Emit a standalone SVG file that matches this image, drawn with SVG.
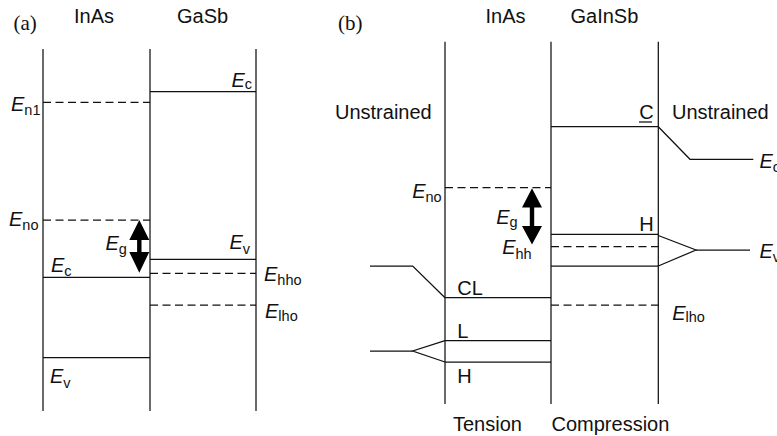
<svg xmlns="http://www.w3.org/2000/svg" width="777" height="436" viewBox="0 0 777 436">
<style>
.ln{stroke:#111;stroke-width:1.25;fill:none}
.ds{stroke:#111;stroke-width:1.25;fill:none;stroke-dasharray:8 4.5}
.t{font-family:"Liberation Sans",Arial,sans-serif;font-size:20px;fill:#111}
.p{font-family:"Liberation Serif","Times New Roman",serif;font-size:21px;fill:#111}
.E{font-style:italic}
.s{font-size:14.5px;font-style:normal}
.ar{fill:#000}
</style>
<rect width="777" height="436" fill="#fff"/>
<g id="panel-a">
  <text class="p" x="13.5" y="29.5">(a)</text>
  <text class="t" x="74" y="23">InAs</text>
  <text class="t" x="177" y="23">GaSb</text>
  <g id="a-layers">
    <line class="ln" x1="43" y1="49" x2="43" y2="411"/>
    <line class="ln" x1="150" y1="49" x2="150" y2="411"/>
    <line class="ln" x1="256" y1="49" x2="256" y2="411"/>
  </g>
  <g id="a-levels">
    <line class="ln" x1="150" y1="91.7" x2="256" y2="91.7"/>
    <line class="ds" x1="43" y1="102.3" x2="150" y2="102.3"/>
    <line class="ds" x1="43" y1="220" x2="150" y2="220"/>
    <line class="ln" x1="150" y1="259.3" x2="256" y2="259.3"/>
    <line class="ds" x1="150" y1="273.3" x2="256" y2="273.3"/>
    <line class="ln" x1="43" y1="277.3" x2="150" y2="277.3"/>
    <line class="ds" x1="150" y1="305" x2="256" y2="305"/>
    <line class="ln" x1="43" y1="357.7" x2="150" y2="357.7"/>
  </g>
  <polygon id="a-eg-arrow" class="ar" points="139.3,220 149.3,240 141.5,240 141.5,252 149.3,252 139.3,272.7 129.3,252 137.1,252 137.1,240 129.3,240"/>
  <g id="a-labels">
    <text class="t E" x="231.5" y="86.5">E<tspan class="s" dy="2.5">c</tspan></text>
    <text class="t E" x="11" y="111">E<tspan class="s" dy="3.5">n1</tspan></text>
    <text class="t E" x="9" y="226">E<tspan class="s" dy="4">no</tspan></text>
    <text class="t E" x="105.5" y="250">E<tspan class="s" dy="4">g</tspan></text>
    <text class="t E" x="229.5" y="249.3">E<tspan class="s" dy="4.5">v</tspan></text>
    <text class="t E" x="51" y="271.7">E<tspan class="s" dy="4.5">c</tspan></text>
    <text class="t E" x="264" y="280.7">E<tspan class="s" dy="4.5">hho</tspan></text>
    <text class="t E" x="265" y="318.3">E<tspan class="s" dy="2.5">lho</tspan></text>
    <text class="t E" x="50" y="383.3">E<tspan class="s" dy="5">v</tspan></text>
  </g>
</g>
<g id="panel-b">
  <text class="p" x="338" y="29.5">(b)</text>
  <text class="t" x="485.5" y="23">InAs</text>
  <text class="t" x="570.5" y="23">GaInSb</text>
  <text class="t" x="335" y="119">Unstrained</text>
  <text class="t" x="672" y="119">Unstrained</text>
  <g id="b-layers">
    <line class="ln" x1="445" y1="41.7" x2="445" y2="404"/>
    <line class="ln" x1="551" y1="41.7" x2="551" y2="404"/>
    <line class="ln" x1="658.3" y1="41.7" x2="658.3" y2="404"/>
  </g>
  <g id="b-levels">
    <line class="ln" x1="551" y1="126.7" x2="658.3" y2="126.7"/>
    <polyline class="ln" points="658.3,126.7 690,159.3 753.3,159.3"/>
    <line class="ds" x1="445" y1="187.7" x2="551" y2="187.7"/>
    <line class="ln" x1="551" y1="234.3" x2="658.3" y2="234.3"/>
    <line class="ds" x1="551" y1="246.7" x2="658.3" y2="246.7"/>
    <line class="ln" x1="551" y1="266" x2="658.3" y2="266"/>
    <polyline class="ln" points="658.3,235.5 696,250 658.3,266"/>
    <line class="ln" x1="696" y1="250" x2="750" y2="250"/>
    <polyline class="ln" points="370,266 412.7,266 445,297.7"/>
    <line class="ln" x1="445" y1="297.7" x2="551" y2="297.7"/>
    <line class="ds" x1="551" y1="305" x2="659" y2="305"/>
    <line class="ln" x1="445" y1="340.7" x2="551" y2="340.7"/>
    <line class="ln" x1="445" y1="362" x2="551" y2="362"/>
    <polyline class="ln" points="445,340.7 412.7,351 445,362"/>
    <line class="ln" x1="370" y1="351" x2="412.7" y2="351"/>
  </g>
  <polygon id="b-eg-arrow" class="ar" points="532,188.3 542,207.5 534.2,207.5 534.2,226 542,226 532,244.5 522,226 529.8,226 529.8,207.5 522,207.5"/>
  <g id="b-labels">
    <text class="t" x="639.3" y="119">C</text>
    <line class="ln" x1="639" y1="122" x2="652" y2="122"/>
    <text class="t" x="639.3" y="231">H</text>
    <text class="t" x="457.3" y="295.3">CL</text>
    <text class="t" x="457.3" y="337.5">L</text>
    <text class="t" x="457.3" y="383">H</text>
    <text class="t" x="453" y="431">Tension</text>
    <text class="t" x="551.5" y="431">Compression</text>
    <text class="t E" x="412.2" y="197.7">E<tspan class="s" dy="4.5">no</tspan></text>
    <text class="t E" x="496.2" y="224">E<tspan class="s" dy="2.5">g</tspan></text>
    <text class="t E" x="502.2" y="254">E<tspan class="s" dy="4.5">hh</tspan></text>
    <text class="t E" x="672.2" y="320">E<tspan class="s" dy="1.5">lho</tspan></text>
    <text class="t E" x="759.5" y="167.5">E<tspan class="s" dy="4">c</tspan></text>
    <text class="t E" x="759.5" y="257.5">E<tspan class="s" dy="4">v</tspan></text>
  </g>
</g>
</svg>
